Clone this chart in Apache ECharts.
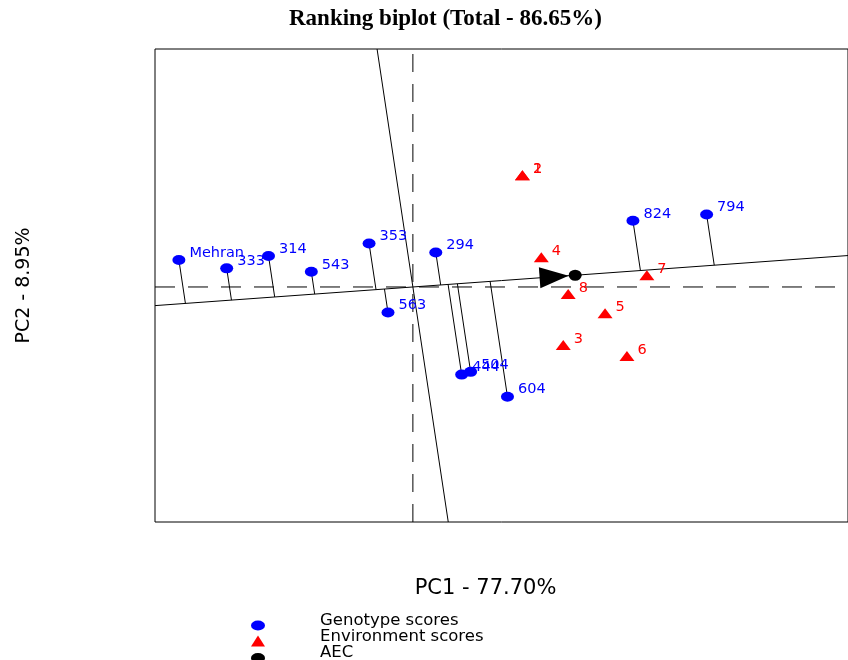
<!DOCTYPE html>
<html><head><meta charset="utf-8">
<script src="https://cdn.jsdelivr.net/npm/echarts@6/dist/echarts.min.js"></script>
<style>html,body{margin:0;padding:0;background:#fff}#c{width:848px;height:660px}</style>
</head><body><div id="c"></div>
<script>
// ---- data ----
const genotypeNames = ['Mehran','333','314','543','353','563','294','444','504','604','824','794'];
const genotypePC1 = [-2.35,-1.87,-1.45,-1.02,-0.44,-0.25,0.23,0.49,0.58,0.95,2.21,2.95];
const genotypePC2 = [0.39,0.27,0.45,0.22,0.63,-0.37,0.50,-1.27,-1.23,-1.59,0.96,1.05];
const environmentNames = ['1','2','3','4','5','6','7','8'];
const environmentPC1 = [1.10,1.10,1.51,1.29,1.93,2.15,2.35,1.56];
const environmentPC2 = [1.62,1.62,-0.84,0.43,-0.38,-1.00,0.17,-0.10];
const aecPoint = [1.63, 0.17];
const pc1Range = [-2.59, 4.37];
const pc2Range = [-3.406, 3.449];
const titleText = 'Ranking biplot (Total - 86.65%)';
const xName = 'PC1 - 77.70%';
const yName = 'PC2 - 8.95%';
const legendNames = ['Genotype scores', 'Environment scores', 'AEC'];

// ---- layout ----
const G = {left:155, top:49, right:-3, bottom:138};
const gridW = 848 - G.left - G.right, gridH = 660 - G.top - G.bottom;
const pxX = gridW / (pc1Range[1]-pc1Range[0]);
const pxY = gridH / (pc2Range[1]-pc2Range[0]);

// AEC geometry derived from the average-environment point
const d2 = aecPoint[0]*aecPoint[0] + aecPoint[1]*aecPoint[1];
function project(x, y){ const t = (x*aecPoint[0] + y*aecPoint[1]) / d2; return [t*aecPoint[0], t*aecPoint[1]]; }
const slope = aecPoint[1]/aecPoint[0];
const aecAbscissa = [[pc1Range[0], slope*pc1Range[0]], [pc1Range[1], slope*pc1Range[1]]];
const perp = -aecPoint[0]/aecPoint[1]; // y = perp * x
const aecOrdinate = [[pc2Range[1]/perp, pc2Range[1]], [pc2Range[0]/perp, pc2Range[0]]];
const arrowPos = [aecPoint[0]*0.87, aecPoint[1]*0.87];
const arrowAngle = Math.atan2(aecPoint[1]*pxY, aecPoint[0]*pxX) * 180 / Math.PI;

const genoData = genotypeNames.map((n,i)=>({name:n, value:[genotypePC1[i], genotypePC2[i]]}));
const envData = environmentNames.map((n,i)=>({name:n, value:[environmentPC1[i], environmentPC2[i]]}));
const projLines = genotypeNames.map((n,i)=>({coords:[[genotypePC1[i], genotypePC2[i]], project(genotypePC1[i], genotypePC2[i])]}));

const ellipse = 'path://M-1 0A1 1 0 1 0 1 0A1 1 0 1 0 -1 0Z';
// legend icons: an empty move-to above the shape shifts the shape below the text centre
const legendEllipse = 'path://M0 -3M-1.4 0A1.4 1 0 1 0 1.4 0A1.4 1 0 1 0 -1.4 0Z';
const legendTriangle = 'path://M0 -2.45M-1.27 1L0 -1L1.27 1Z';
const FONT = 'DejaVu Sans';

const chart = echarts.init(document.getElementById('c'), null, {renderer:'canvas'});
const legendBase = {orient:'vertical', left:251, padding:0, itemWidth:14, selectedMode:false,
  textStyle:{fontFamily:FONT, fontSize:16.5, color:'#000', padding:[0,0,0,50]}};
chart.setOption({
  animation:false,
  backgroundColor:'#fff',
  title:{text:titleText, left:289, top:8, padding:0,
    textStyle:{fontFamily:'Liberation Serif', fontSize:23, fontWeight:'bold', color:'#000'}},
  legend:[
    Object.assign({}, legendBase, {top:610.5, itemHeight:20, data:[{name:legendNames[0], icon:legendEllipse}]}),
    Object.assign({}, legendBase, {top:627.5, itemHeight:19, data:[{name:legendNames[1], icon:legendTriangle}]}),
    Object.assign({}, legendBase, {top:643, itemHeight:20, data:[{name:legendNames[2], icon:legendEllipse}]})
  ],
  grid:{left:G.left, top:G.top, right:G.right, bottom:G.bottom, show:true, borderColor:'#000', borderWidth:1, backgroundColor:'transparent'},
  xAxis:{type:'value', min:pc1Range[0], max:pc1Range[1], name:xName, nameLocation:'middle', nameGap:56,
    nameTextStyle:{fontFamily:FONT, fontSize:21, color:'#000', padding:[0,32,0,0]},
    axisLine:{show:false}, axisTick:{show:false}, axisLabel:{show:false}, splitLine:{show:false}},
  yAxis:{type:'value', min:pc2Range[0], max:pc2Range[1], name:yName, nameLocation:'middle', nameGap:121,
    nameTextStyle:{fontFamily:FONT, fontSize:19, color:'#000'},
    axisLine:{show:false}, axisTick:{show:false}, axisLabel:{show:false}, splitLine:{show:false}},
  series:[
    {name:'x0', type:'line', data:[[0,pc2Range[0]],[0,pc2Range[1]]], symbol:'none', silent:true,
      lineStyle:{color:'#000', width:1, type:[18,12]}, z:1},
    {name:'y0', type:'line', data:[[pc1Range[0],0],[pc1Range[1],0]], symbol:'none', silent:true,
      lineStyle:{color:'#000', width:1, type:[20,13]}, z:1},
    {name:'AEC abscissa', type:'line', data:aecAbscissa, symbol:'none', silent:true, lineStyle:{color:'#000', width:1}, z:2},
    {name:'AEC ordinate', type:'line', data:aecOrdinate, symbol:'none', silent:true, lineStyle:{color:'#000', width:1}, z:2},
    {name:'projections', type:'lines', coordinateSystem:'cartesian2d', data:projLines, silent:true,
      lineStyle:{color:'#000', width:1, opacity:1}, z:2},
    {name:legendNames[0], type:'scatter', data:genoData, symbol:ellipse, symbolSize:[13,10],
      itemStyle:{color:'#0000ff', opacity:1}, z:5,
      label:{show:true, position:'right', distance:4, offset:[0,-7], formatter:'{b}', color:'#0000ff', fontFamily:FONT, fontSize:14.5}},
    {name:legendNames[1], type:'scatter', data:envData, symbol:'triangle', symbolSize:[15,10],
      itemStyle:{color:'#ff0000', opacity:1}, z:5,
      label:{show:true, position:'right', distance:3, offset:[0,-6], formatter:'{b}', color:'#ff0000', fontFamily:FONT, fontSize:14.5}},
    {name:'AEC arrow', type:'scatter', data:[arrowPos], symbol:'triangle', symbolSize:[21,29],
      symbolRotate:-90+arrowAngle, itemStyle:{color:'#000', opacity:1}, z:6, silent:true},
    {name:legendNames[2], type:'scatter', data:[aecPoint], symbol:ellipse, symbolSize:[13,11], itemStyle:{color:'#000', opacity:1}, z:6}
  ]
});
</script></body></html>
